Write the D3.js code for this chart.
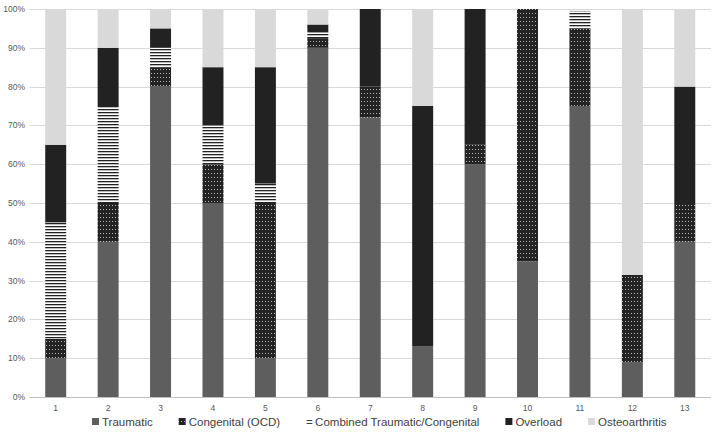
<!DOCTYPE html>
<html><head><meta charset="utf-8">
<script src="https://cdn.jsdelivr.net/npm/d3@7"></script>
<style>body{margin:0;background:#fff}svg{display:block}</style>
</head><body>
<svg id="c" width="714" height="437"></svg>
<script>
const categories = ["1","2","3","4","5","6","7","8","9","10","11","12","13"];
const seriesNames = ["Traumatic","Congenital (OCD)","Combined Traumatic/Congenital","Overload","Osteoarthritis"];
const traumatic  = [10,40,80,50,10,90,72,13,60,35,75,9,40];
const congenital = [5,10,5,10,40,2.5,8,0,5,65,20,22.5,10];
const combined   = [30,25,5,10,5,1.5,0,0,0,0,4.5,0,0];
const overload   = [20,15,5,15,30,2,20,62,35,0,0,0,30];
const osteo      = [35,10,5,15,15,4,0,25,0,0,0,68.5,20];
const yTicks = [0,10,20,30,40,50,60,70,80,90,100];

const svg = d3.select("#c");
const defs = svg.append("defs");
const pd = defs.append("pattern").attr("id","dots").attr("patternUnits","userSpaceOnUse")
  .attr("width",3).attr("height",4);
pd.append("rect").attr("width",3).attr("height",4).attr("fill","#232323");
pd.append("rect").attr("x",1).attr("y",1).attr("width",1).attr("height",1).attr("fill","#b8b8b8");
const pl = defs.append("pattern").attr("id","lines").attr("patternUnits","userSpaceOnUse")
  .attr("width",4).attr("height",3);
pl.append("rect").attr("width",4).attr("height",3).attr("fill","#fff");
pl.append("rect").attr("y",1).attr("width",4).attr("height",1.3).attr("fill","#222");

const fills = ["#5e5e5e","url(#dots)","url(#lines)","#222222","#d9d9d9"];

const x = d3.scaleBand().domain(categories).range([29.5,711]).paddingInner(0.6).paddingOuter(0.3);
const y = d3.scaleLinear().domain([0,100]).range([397,9]);

const font = "Liberation Sans, Arial, sans-serif";
svg.append("g").selectAll("line").data(yTicks).join("line")
  .attr("x1",29.5).attr("x2",711).attr("y1",d=>Math.round(y(d))+0.5).attr("y2",d=>Math.round(y(d))+0.5)
  .attr("stroke",d=>d===0?"#bfbfbf":"#d9d9d9").attr("stroke-width",1);
svg.append("g").selectAll("text").data(yTicks).join("text")
  .attr("x",25).attr("y",d=>y(d)+3).attr("text-anchor","end")
  .attr("font-family",font).attr("font-size",8.5).attr("fill","#595959").text(d=>d+"%");
svg.append("g").selectAll("text").data(categories).join("text")
  .attr("x",d=>x(d)+x.bandwidth()/2).attr("y",411).attr("text-anchor","middle")
  .attr("font-family",font).attr("font-size",8.5).attr("fill","#595959").text(d=>d);

const table = categories.map((c,i)=>({cat:c, v:[traumatic[i],congenital[i],combined[i],overload[i],osteo[i]]}));
const stacked = d3.stack().keys([0,1,2,3,4]).value((d,k)=>d.v[k])(table);
svg.append("g").selectAll("g").data(stacked).join("g").attr("fill",(d,i)=>fills[i])
  .selectAll("rect").data(d=>d).join("rect")
  .attr("x",d=>x(d.data.cat)).attr("width",x.bandwidth())
  .attr("y",d=>y(d[1])).attr("height",d=>Math.max(0,y(d[0])-y(d[1])));

const lg = svg.append("g");
let lx = 92;
seriesNames.forEach((n,i)=>{
  if(i===2){
    lg.append("text").attr("x",lx).attr("y",426).attr("font-family",font).attr("font-size",11.5)
      .attr("fill","#404040").text("=");
    lx += 9;
  } else {
    lg.append("rect").attr("x",lx).attr("y",418).attr("width",7).attr("height",7).attr("fill",fills[i]);
    lx += 10;
  }
  const t = lg.append("text").attr("x",lx).attr("y",426).attr("font-family",font).attr("font-size",11.5)
    .attr("fill","#404040").text(n);
  lx += t.node().getComputedTextLength() + 26;
});
</script>
</body></html>
